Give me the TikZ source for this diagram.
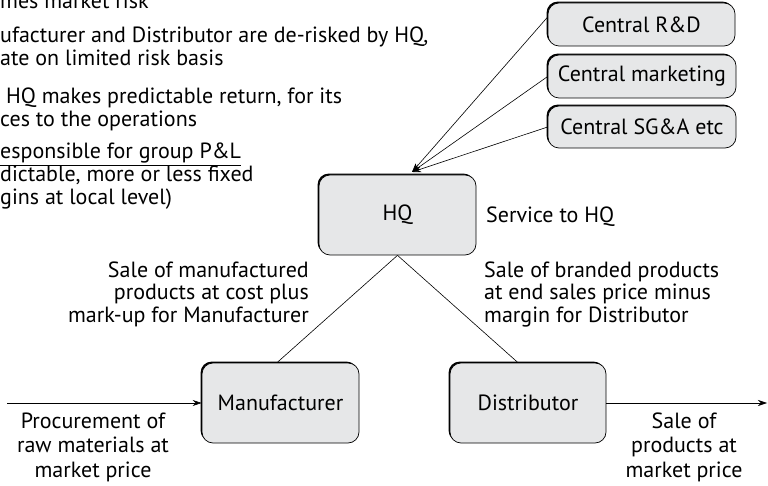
\documentclass[tikz,border=0pt]{standalone}
\usepackage{fontspec}
\setmainfont{PT Sans}
\usetikzlibrary{arrows.meta,shadows}
\definecolor{boxgray}{HTML}{E6E7E8}
\begin{document}
\begin{tikzpicture}[x=1pt,y=-1pt,
  font=\fontsize{22}{23}\selectfont,
  boxst/.style={draw=black, line width=0.7pt, fill=boxgray, rounded corners=11pt,
    general shadow={fill=black, shadow xshift=-1.4pt, shadow yshift=1.4pt},
    inner sep=0pt, align=center},
  conn/.style={line width=0.6pt},
  arr/.style={conn, -{Stealth[length=9pt,width=6pt]}},
  lbl/.style={inner sep=0pt}
]
\useasboundingbox (0,0) rectangle (768,486);
% boxes
\node[boxst, minimum width=187pt, minimum height=43pt] (rd) at (641.5,24.5) {Central R\&D};
\node[boxst, minimum width=188pt, minimum height=43pt] (mk) at (642,76.5) {Central marketing};
\node[boxst, minimum width=188pt, minimum height=42pt] (sg) at (642,127) {Central SG\&A etc};
\node[boxst, minimum width=157pt, minimum height=80pt] (hq) at (397.5,215) {HQ};
\node[boxst, minimum width=157pt, minimum height=80pt] (man) at (280.5,403) {Manufacturer};
\node[boxst, minimum width=156pt, minimum height=80pt] (dis) at (528,403) {Distributor};
% coordinates
\coordinate (hqin) at (412,172);
\coordinate (lin) at (7,403);
\coordinate (rout) at (767,403);
% connectors
\draw[arr] ([yshift=7.5pt]rd.west) -- (hqin);
\draw[arr] (mk.west) -- (hqin);
\draw[arr] (sg.west) -- (hqin);
\draw[conn] (hq.south) -- ([xshift=-3.5pt]man.north);
\draw[conn] (hq.south) -- ([xshift=-10pt]dis.north);
\draw[arr] (lin) -- (man.west);
\draw[arr] (dis.east) -- (rout);
% labels (base anchor = baseline of last line)
\node[lbl, anchor=base east, align=right, font=\fontsize{22}{22.5}\selectfont] (lmu) at (309,322) {Sale of manufactured\\products at cost plus\\mark-up for Manufacturer};
\node[lbl, anchor=base west, align=left, font=\fontsize{22}{22.5}\selectfont] (lbr) at (484,322) {Sale of branded products\\at end sales price minus\\margin for Distributor};
\node[lbl, anchor=base, align=center, font=\fontsize{22}{24.5}\selectfont] (lpr) at (93,477) {Procurement of\\raw materials at\\market price};
\node[lbl, anchor=base, align=center, font=\fontsize{22}{24.5}\selectfont] (lsp) at (684,477) {Sale of\\products at\\market price};
\node[lbl, anchor=base west] (lsv) at (486,223) {Service to HQ};
% top-left text
\node[lbl, anchor=base west, align=left] (t1) at (0,9) {mes market risk};
\node[lbl, anchor=base west, align=left] (t2) at (0,66) {ufacturer and Distributor are de-risked by HQ,\\ate on limited risk basis};
\node[lbl, anchor=base west, align=left] (t3) at (0,127) {\hspace{6pt}HQ makes predictable return, for its\\ces to the operations};
\node[lbl, anchor=base west, align=left] (t4) at (0,205) {\underline{esponsible for group P\&L}\\dictable, more or less fixed\\gins at local level)};
\end{tikzpicture}
\end{document}
